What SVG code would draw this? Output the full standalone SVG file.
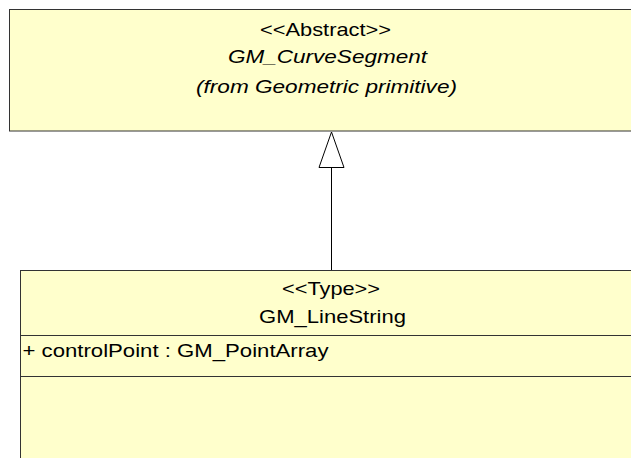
<svg xmlns="http://www.w3.org/2000/svg" width="631" height="458" viewBox="0 0 631 458">
<style>
.box{fill:#FFFFCC;stroke:#333;stroke-width:1}
.sep{stroke:#333;stroke-width:1}
text{font-family:"Liberation Sans",Arial,sans-serif;font-size:19px;fill:#000}
.i{font-style:italic}
.edge{stroke:#000;stroke-width:1;fill:none}
.head{fill:#fff;stroke:#000;stroke-width:1}
</style>
<rect width="631" height="458" fill="#fff"/>
<g id="GM_CurveSegment">
<rect class="box" x="9.5" y="9.5" width="640" height="121.5"/>
<text x="260" y="35.5" textLength="131" lengthAdjust="spacingAndGlyphs">&lt;&lt;Abstract&gt;&gt;</text>
<text class="i" x="228" y="62.5" textLength="199" lengthAdjust="spacingAndGlyphs">GM_CurveSegment</text>
<text class="i" x="196" y="92.5" textLength="261" lengthAdjust="spacingAndGlyphs">(from Geometric primitive)</text>
</g>
<g id="GM_LineString">
<rect class="box" x="20.5" y="270.5" width="640" height="200"/>
<line class="sep" x1="20.5" y1="335.5" x2="631" y2="335.5"/>
<line class="sep" x1="20.5" y1="376.5" x2="631" y2="376.5"/>
<text x="282" y="295" textLength="98" lengthAdjust="spacingAndGlyphs">&lt;&lt;Type&gt;&gt;</text>
<text x="259" y="322.5" textLength="147" lengthAdjust="spacingAndGlyphs">GM_LineString</text>
<text x="22.5" y="356.5" textLength="306" lengthAdjust="spacingAndGlyphs">+ controlPoint : GM_PointArray</text>
</g>
<g id="connectors">
<line class="edge" x1="331.5" y1="167" x2="331.5" y2="270"/>
<polygon class="head" points="331.5,132 319,167.5 344,167.5"/>
</g>
</svg>
